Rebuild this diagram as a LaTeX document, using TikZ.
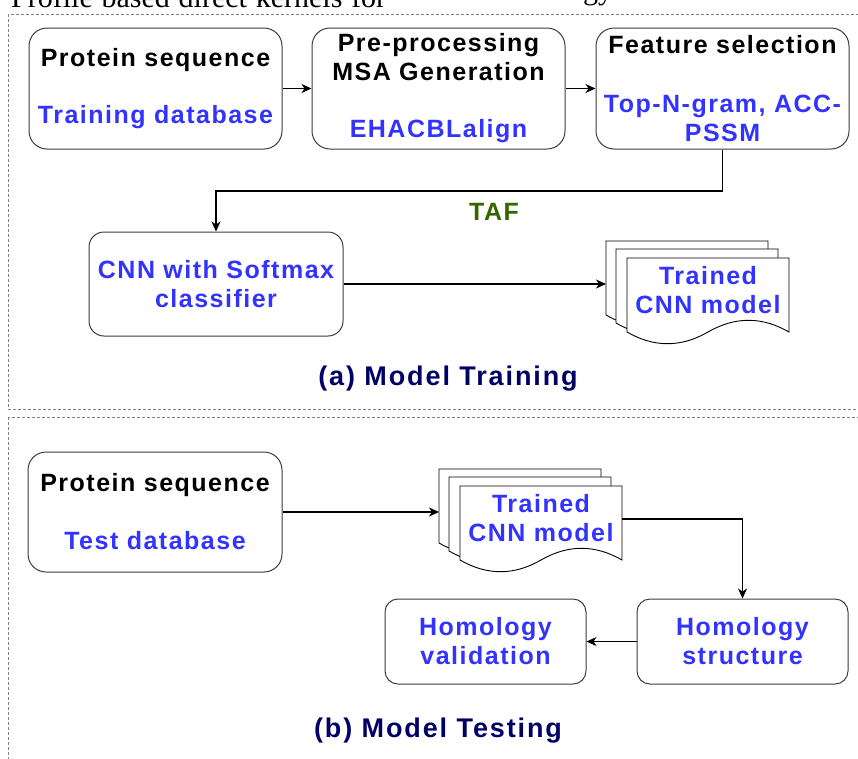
\documentclass[tikz,border=0pt]{standalone}
\usepackage{fontspec}
\setmainfont{Liberation Serif}
\newfontfamily\boxfont[LetterSpace=6]{Liberation Sans}
\newfontfamily\capfont[LetterSpace=7]{Liberation Sans}
\usetikzlibrary{arrows.meta}
\definecolor{txtblue}{RGB}{51,51,255}
\definecolor{tafgreen}{RGB}{51,102,0}
\definecolor{capnavy}{RGB}{0,0,102}
\definecolor{edge}{RGB}{60,60,60}
\tikzset{
  box/.style = {draw=edge, line width=1pt, fill=white, inner sep=0, align=center,
    font=\boxfont\bfseries\fontsize{25}{29}\selectfont},
  arr/.style = {draw, line width=1.3pt, -{Stealth[length=10pt, width=9pt, inset=3pt]}},
  sheet/.style = {draw=black, line width=0.9pt, fill=white},
  doctext/.style = {inner sep=0, align=center, text=txtblue,
    font=\boxfont\bfseries\fontsize{25}{29}\selectfont},
  frame/.style = {draw=gray, line width=0.8pt, dash pattern=on 3pt off 2pt},
  caption/.style = {inner sep=0, text=capnavy, font=\capfont\bfseries\fontsize{27}{31}\selectfont}
}
\newcommand{\docsheet}[2]{%
  \begin{scope}[shift={(#1,#2)}]
    \draw[sheet] (0,0) -- (162,0) -- (162,74) .. controls (135,58.4) and (108,58.4) .. (81,74)
      .. controls (54,89.6) and (27,89.6) .. (0,74) -- cycle;
  \end{scope}}
\newcommand{\docstack}[4]{%
  \begin{scope}[shift={(#2,#3)}]
    \docsheet{0}{0}
    \docsheet{10}{8}
    \docsheet{21}{17}
    \node[doctext] (#1) at (102,49.5) {#4};
    \coordinate (#1-in) at (0,42);
    \coordinate (#1-out) at (183,50);
  \end{scope}}

\begin{document}
\begin{tikzpicture}[x=1pt, y=-1pt]
  \useasboundingbox (0,0) rectangle (858,758);
  \node[anchor=base west, inner sep=0, font=\fontsize{30}{34}\selectfont] (head) at (11,7)
    {\makebox[375pt][s]{Profile based direct kernels for}};
  \node[anchor=base west, inner sep=0, font=\fontsize{30}{34}\selectfont] (headend) at (583,-1) {gy};

  \draw[frame] (8,14) rectangle (866,409);
  \draw[frame] (8,417) rectangle (866,770);

  \node[box, minimum width=253pt, minimum height=121pt, rounded corners=18pt] (seqA) at (155.5,88.5)
    {Protein sequence\\[28pt]\color{txtblue}Training database};
  \node[box, minimum width=253pt, minimum height=121pt, rounded corners=18pt] (msa) at (438.5,88.5)
    {Pre-processing\\MSA Generation\\[28pt]\color{txtblue}EHACBLalign};
  \node[box, minimum width=253pt, minimum height=121pt, rounded corners=18pt] (feat) at (722.5,88.5)
    {Feature selection\\[30pt]\color{txtblue}Top-N-gram, ACC-\\\color{txtblue}PSSM};
  \node[box, minimum width=254pt, minimum height=104pt, rounded corners=15pt, text=txtblue] (cnn) at (216,284)
    {CNN with Softmax\\classifier};
  \docstack{trainA}{606}{241}{Trained\\CNN model}
  \coordinate (bend) at (0,191);
  \node[box, draw=none, fill=none, text=tafgreen] (taf) at (494,212) {TAF};

  \draw[arr] (seqA) -- (msa);
  \draw[arr] (msa) -- (feat);
  \draw[arr] (feat.south) -- (feat.south |- bend) -| (cnn.north);
  \draw[arr] (cnn.east) -- (cnn.east -| trainA-in);
  \node[caption] (capA) at (448,379) {(a) Model Training};

  \node[box, minimum width=254pt, minimum height=120pt, rounded corners=18pt] (seqB) at (155,512)
    {Protein sequence\\[29pt]\color{txtblue}Test database};
  \docstack{trainB}{439}{469}{Trained\\CNN model}
  \node[box, minimum width=211pt, minimum height=85pt, rounded corners=13pt, text=txtblue] (hstruct) at (742.5,641.5)
    {Homology\\structure};
  \node[box, minimum width=201pt, minimum height=85pt, rounded corners=13pt, text=txtblue] (hvalid) at (485.5,641.5)
    {Homology\\validation};

  \draw[arr] (seqB.east) -- (seqB.east -| trainB-in);
  \draw[arr] (trainB-out) -| (hstruct.north);
  \draw[arr] (hstruct) -- (hvalid);
  \node[caption] (capB) at (438,731) {(b) Model Testing};
\end{tikzpicture}
\end{document}
